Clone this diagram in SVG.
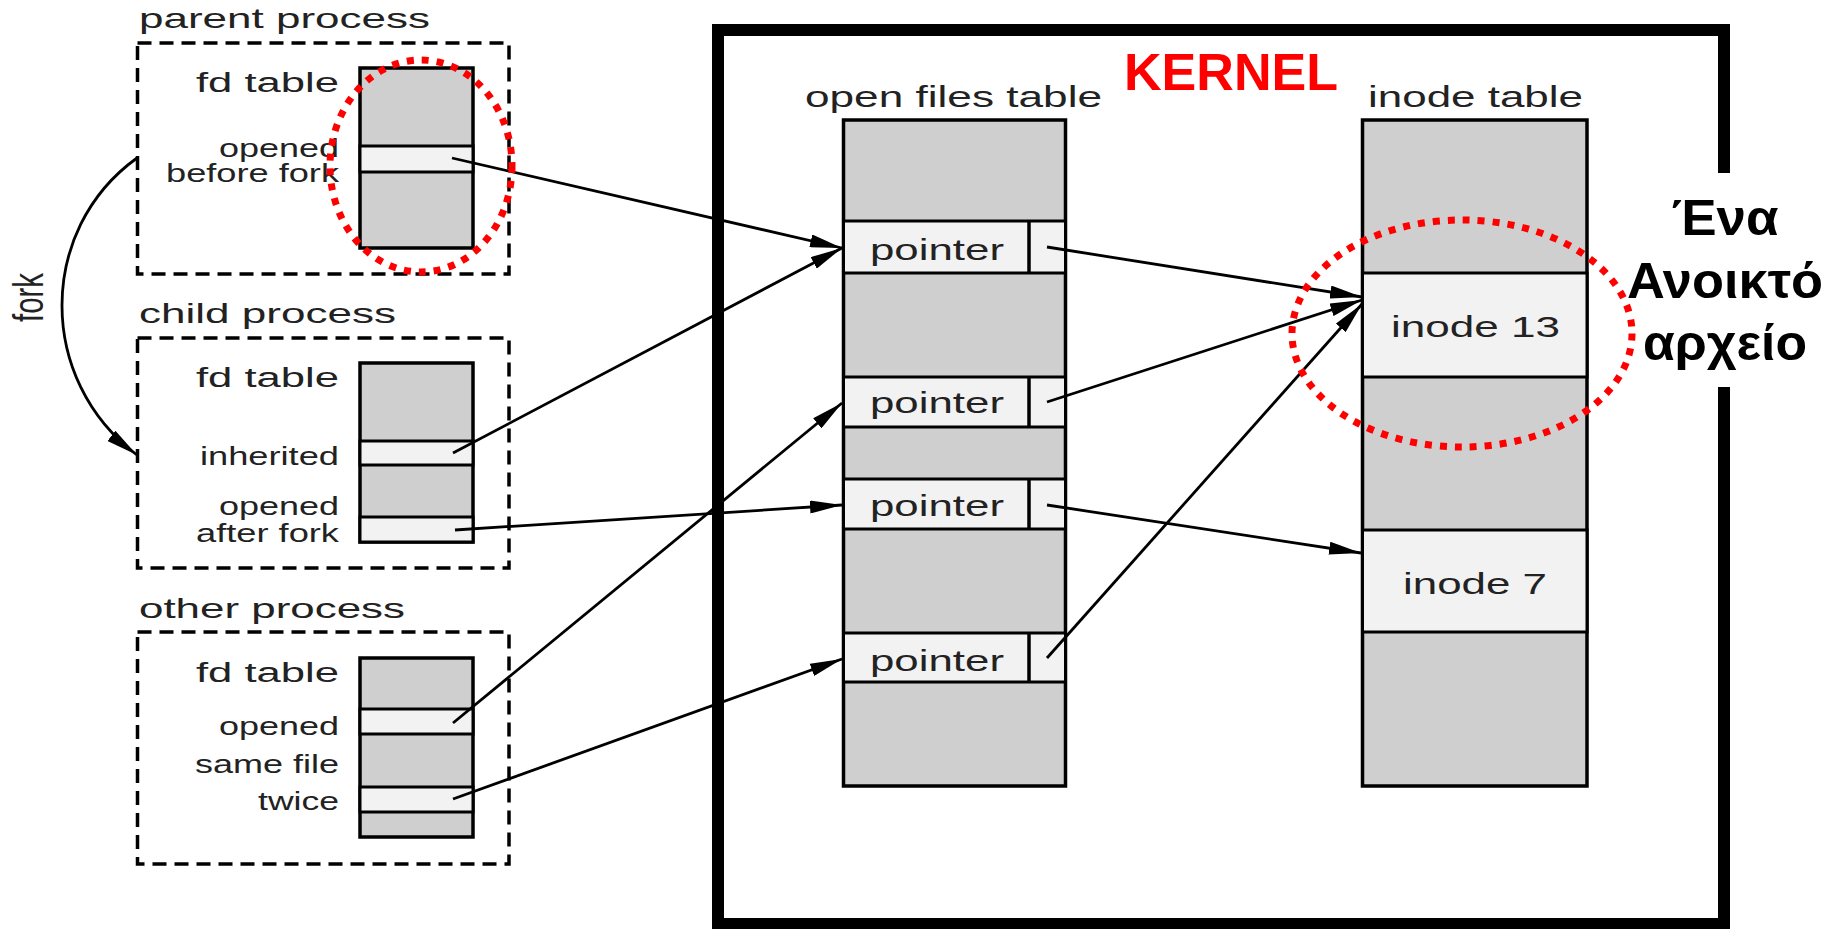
<svg xmlns="http://www.w3.org/2000/svg" width="1831" height="929" viewBox="0 0 1831 929">
  <style>
    .lbl { font-family: "Liberation Sans", Arial, sans-serif; fill: #222; }
    .title { font-size: 28px; }
    .fd { font-size: 27px; }
    .small { font-size: 25px; }
    .cell { font-size: 29px; }
    .head { font-size: 30px; }
    .bold { font-family: "Liberation Sans", Arial, sans-serif; font-weight: bold; }
    .proc { fill: none; stroke: #000; stroke-width: 3.5; stroke-dasharray: 14 8; }
    .tbl { fill: #cfcfcf; stroke: #000; stroke-width: 3.5; }
    .slot { fill: #f2f2f2; stroke: #000; stroke-width: 3; }
    .conn { fill: none; stroke: #000; stroke-width: 2.8; marker-end: url(#arrow); }
    .mark { fill: none; stroke: #ff0000; stroke-width: 7; stroke-dasharray: 7 8; }
  </style>
  <defs>
    <marker id="arrow" markerUnits="userSpaceOnUse" markerWidth="32" markerHeight="13" viewBox="0 0 32 13" refX="32" refY="6.5" orient="auto">
      <path d="M0,0 L32,6.5 L0,13 Z" fill="#000"/>
    </marker>
  </defs>

  <rect width="1831" height="929" fill="#fff"/>

  <!-- kernel frame, open on the right where its caption sits -->
  <g id="kernel">
    <path d="M1724,173 V30 H718 V924 H1724 V387" fill="none" stroke="#000" stroke-width="12"/>
    <text class="bold" x="1124" y="90" font-size="52" fill="#ff0000" textLength="214" lengthAdjust="spacingAndGlyphs">KERNEL</text>
  </g>

  <!-- parent process -->
  <g id="parent-process">
    <text class="lbl title" x="139" y="28" textLength="291" lengthAdjust="spacingAndGlyphs">parent process</text>
    <rect class="proc" x="137.5" y="43" width="371.5" height="231"/>
    <rect class="tbl" x="360" y="68" width="113" height="180"/>
    <rect class="slot" x="360" y="146" width="113" height="26"/>
    <text class="lbl fd" x="196" y="92" textLength="143" lengthAdjust="spacingAndGlyphs">fd table</text>
    <text class="lbl small" x="219" y="157" textLength="120" lengthAdjust="spacingAndGlyphs">opened</text>
    <text class="lbl small" x="166" y="182" textLength="173" lengthAdjust="spacingAndGlyphs">before fork</text>
  </g>

  <!-- child process -->
  <g id="child-process">
    <text class="lbl title" x="139" y="323" textLength="257" lengthAdjust="spacingAndGlyphs">child process</text>
    <rect class="proc" x="137.5" y="338" width="371.5" height="230"/>
    <rect class="tbl" x="360" y="363" width="113" height="179"/>
    <rect class="slot" x="360" y="441" width="113" height="24"/>
    <rect class="slot" x="360" y="517" width="113" height="25"/>
    <text class="lbl fd" x="196" y="387" textLength="143" lengthAdjust="spacingAndGlyphs">fd table</text>
    <text class="lbl small" x="200" y="465" textLength="139" lengthAdjust="spacingAndGlyphs">inherited</text>
    <text class="lbl small" x="219" y="515" textLength="120" lengthAdjust="spacingAndGlyphs">opened</text>
    <text class="lbl small" x="196" y="542" textLength="143" lengthAdjust="spacingAndGlyphs">after fork</text>
  </g>

  <!-- other process -->
  <g id="other-process">
    <text class="lbl title" x="139" y="618" textLength="266" lengthAdjust="spacingAndGlyphs">other process</text>
    <rect class="proc" x="137.5" y="632" width="371.5" height="232"/>
    <rect class="tbl" x="360" y="658" width="113" height="179"/>
    <rect class="slot" x="360" y="709" width="113" height="25"/>
    <rect class="slot" x="360" y="787" width="113" height="25"/>
    <text class="lbl fd" x="196" y="682" textLength="143" lengthAdjust="spacingAndGlyphs">fd table</text>
    <text class="lbl small" x="219" y="735" textLength="120" lengthAdjust="spacingAndGlyphs">opened</text>
    <text class="lbl small" x="195" y="773" textLength="144" lengthAdjust="spacingAndGlyphs">same file</text>
    <text class="lbl small" x="258" y="810" textLength="81" lengthAdjust="spacingAndGlyphs">twice</text>
  </g>

  <!-- open files table -->
  <g id="open-files-table">
    <text class="lbl head" x="805" y="107" textLength="297" lengthAdjust="spacingAndGlyphs">open files table</text>
    <rect class="tbl" x="843.5" y="120" width="222" height="666"/>
    <rect class="slot" x="843.5" y="221" width="222" height="52"/>
    <rect class="slot" x="843.5" y="377" width="222" height="50"/>
    <rect class="slot" x="843.5" y="479" width="222" height="50"/>
    <rect class="slot" x="843.5" y="633" width="222" height="49"/>
    <g stroke="#000" stroke-width="3.5">
      <line x1="1029" y1="221" x2="1029" y2="273"/>
      <line x1="1029" y1="377" x2="1029" y2="427"/>
      <line x1="1029" y1="479" x2="1029" y2="529"/>
      <line x1="1029" y1="633" x2="1029" y2="682"/>
    </g>
    <text class="lbl cell" x="870" y="260" textLength="134" lengthAdjust="spacingAndGlyphs">pointer</text>
    <text class="lbl cell" x="870" y="413" textLength="134" lengthAdjust="spacingAndGlyphs">pointer</text>
    <text class="lbl cell" x="870" y="516" textLength="134" lengthAdjust="spacingAndGlyphs">pointer</text>
    <text class="lbl cell" x="870" y="671" textLength="134" lengthAdjust="spacingAndGlyphs">pointer</text>
  </g>

  <!-- inode table -->
  <g id="inode-table">
    <text class="lbl head" x="1368" y="107" textLength="215" lengthAdjust="spacingAndGlyphs">inode table</text>
    <rect class="tbl" x="1362.5" y="120" width="224.5" height="666"/>
    <rect class="slot" x="1362.5" y="273" width="224.5" height="104"/>
    <rect class="slot" x="1362.5" y="530" width="224.5" height="102"/>
    <text class="lbl head" x="1391" y="337" textLength="169" lengthAdjust="spacingAndGlyphs">inode 13</text>
    <text class="lbl head" x="1403" y="594" textLength="144" lengthAdjust="spacingAndGlyphs">inode 7</text>
  </g>

  <!-- caption beside the kernel frame -->
  <g id="caption" class="bold" font-size="50" fill="#000" text-anchor="middle">
    <text x="1725" y="235" textLength="107" lengthAdjust="spacingAndGlyphs">Ένα</text>
    <text x="1725" y="298" textLength="196" lengthAdjust="spacingAndGlyphs">Ανοικτό</text>
    <text x="1725" y="360" textLength="164" lengthAdjust="spacingAndGlyphs">αρχείο</text>
  </g>

  <!-- fork label -->
  <g id="fork-label">
    <text class="lbl" font-size="29" transform="translate(43,322) scale(1.45,1) rotate(-90)" textLength="49" lengthAdjust="spacingAndGlyphs">fork</text>
  </g>

  <!-- connectors -->
  <g id="connectors">
    <path class="conn" d="M137,158 C37,230 37,380 137,455" stroke-width="3.2"/>
    <line class="conn" x1="452" y1="158" x2="842" y2="248"/>
    <line class="conn" x1="453" y1="453" x2="842" y2="248"/>
    <line class="conn" x1="455" y1="530" x2="842" y2="505"/>
    <line class="conn" x1="453" y1="723" x2="842" y2="403"/>
    <line class="conn" x1="453" y1="799" x2="842" y2="659"/>
    <line class="conn" x1="1047" y1="247" x2="1362" y2="297"/>
    <line class="conn" x1="1047" y1="402" x2="1362" y2="300"/>
    <line class="conn" x1="1047" y1="505" x2="1361" y2="553"/>
    <line class="conn" x1="1047" y1="658" x2="1362" y2="304"/>
  </g>

  <!-- highlight rings -->
  <g id="highlights">
    <ellipse class="mark" cx="421" cy="166" rx="91" ry="106"/>
    <ellipse class="mark" cx="1462" cy="333.5" rx="170" ry="113.5"/>
  </g>
</svg>
